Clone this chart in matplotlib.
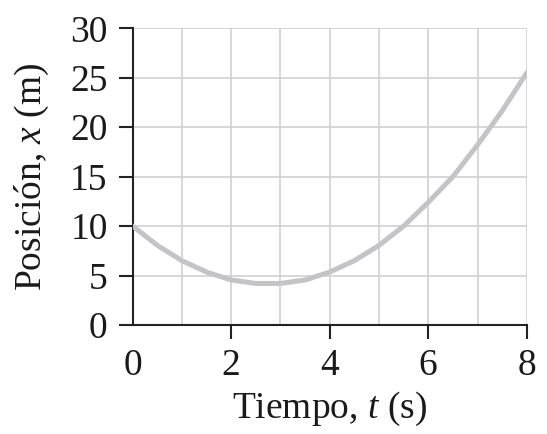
import matplotlib
matplotlib.use("Agg")
import matplotlib.pyplot as plt

# position vs time
tiempo = [0, 0.5, 1, 1.5, 2, 2.5, 3, 3.5, 4, 4.5, 5, 5.5, 6, 6.5, 7, 7.5, 8]
posicion = [10.0, 8.05, 6.5, 5.35, 4.55, 4.2, 4.2, 4.55, 5.35, 6.5, 8.05,
            10.0, 12.4, 15.0, 18.2, 21.65, 25.5]

x_ticks = [0, 2, 4, 6, 8]
y_ticks = [0, 5, 10, 15, 20, 25, 30]

plt.rcParams['font.family'] = ['Liberation Serif', 'DejaVu Serif']
plt.rcParams['mathtext.fontset'] = 'custom'
plt.rcParams['mathtext.rm'] = 'Liberation Serif'
plt.rcParams['mathtext.it'] = 'Liberation Serif:italic'

fig = plt.figure(figsize=(5.47, 4.34), dpi=100)
ax = fig.add_axes([0.2426, 0.2512, 0.7204, 0.6836])

ax.set_xlim(0, 8)
ax.set_ylim(0, 30)
ax.set_xticks(range(0, 9), minor=True)
ax.set_xticks(x_ticks)
ax.set_yticks(y_ticks)
ax.grid(True, which='both', axis='x', color='#d4d4d4', linewidth=1.3)
ax.grid(True, which='major', axis='y', color='#d4d4d4', linewidth=1.3)
ax.tick_params(axis='x', which='minor', length=0)
ax.set_axisbelow(True)

ax.plot(tiempo, posicion, color='#c4c4c8', linewidth=3.6, solid_capstyle='round', zorder=3)

for side in ['top', 'right']:
    ax.spines[side].set_visible(False)
for side in ['left', 'bottom']:
    ax.spines[side].set_linewidth(1.5)
    ax.spines[side].set_color('#222222')

ax.tick_params(axis='both', which='major', direction='out', length=10, width=1.5,
               color='#222222', labelsize=27, labelcolor='#1a1a1a')
ax.tick_params(axis='y', pad=8)
ax.tick_params(axis='x', pad=7)
ax.xaxis.get_major_ticks()[0].tick1line.set_visible(False)

ax.set_xlabel(r'Tiempo, $\it{t}$ (s)', fontsize=27, color='#1a1a1a', labelpad=5)
ax.set_ylabel(r'Posición, $\it{x}$ (m)', fontsize=27, color='#1a1a1a', labelpad=14)

fig.savefig('out.png', dpi=100)
